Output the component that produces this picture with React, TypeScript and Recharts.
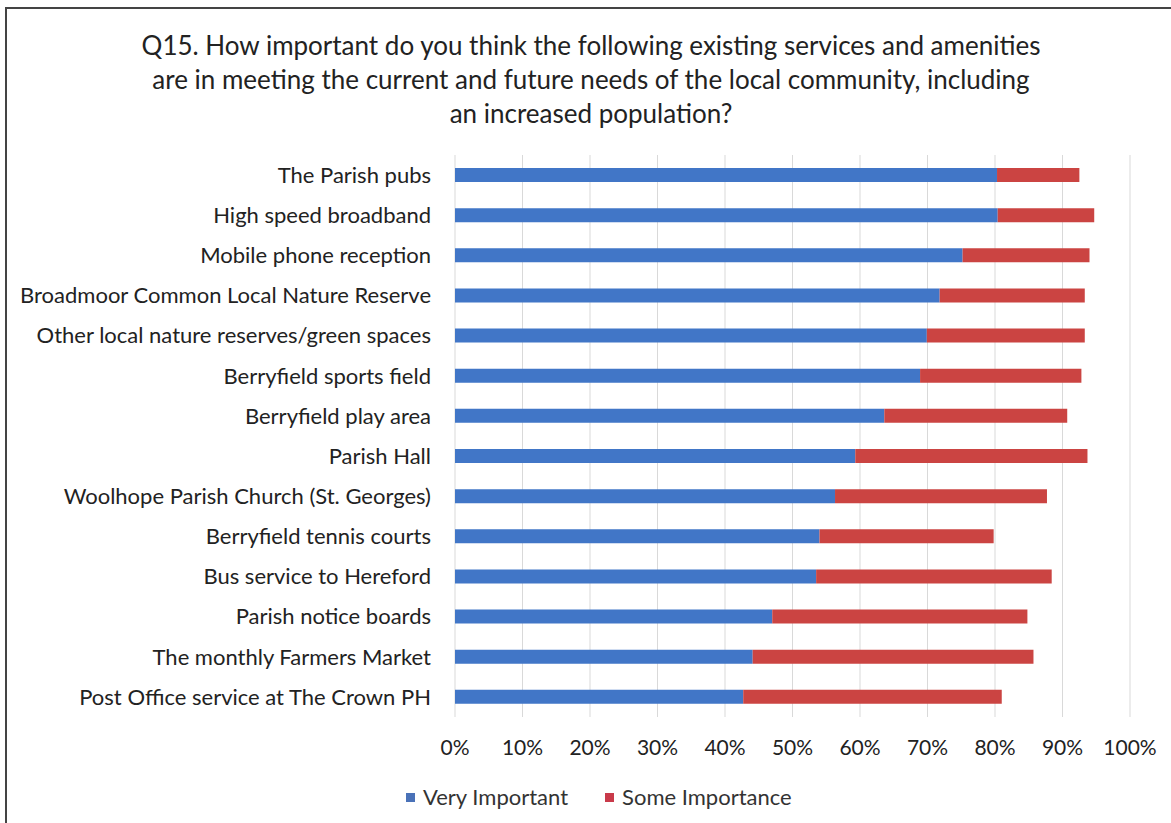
import { Bar, BarChart, CartesianGrid, XAxis, YAxis } from "recharts"

const categories = [
  "The Parish pubs",
  "High speed broadband",
  "Mobile phone reception",
  "Broadmoor Common Local Nature Reserve",
  "Other local nature reserves/green spaces",
  "Berryfield sports field",
  "Berryfield play area",
  "Parish Hall",
  "Woolhope Parish Church (St. Georges)",
  "Berryfield tennis courts",
  "Bus service to Hereford",
  "Parish notice boards",
  "The monthly Farmers Market",
  "Post Office service at The Crown PH",
]

const veryImportant = [80.3, 80.4, 75.2, 71.8, 69.9, 68.9, 63.6, 59.3, 56.3, 54.0, 53.5, 47.0, 44.1, 42.7]
const someImportance = [12.2, 14.3, 18.8, 21.5, 23.4, 23.9, 27.1, 34.4, 31.4, 25.8, 34.9, 37.8, 41.6, 38.3]

const xTicks = [0, 10, 20, 30, 40, 50, 60, 70, 80, 90, 100]

const titleLines = [
  "Q15. How important do you think the following existing services and amenities",
  "are in meeting the current and future needs of the local community, including",
  "an increased population?",
]

const legendItems = [
  { label: "Very Important", color: "#4a72b8" },
  { label: "Some Importance", color: "#c93a4a" },
]

const data = categories.map((name, i) => ({
  name,
  very: veryImportant[i],
  some: someImportance[i],
}))

const FONT = "Lato, 'Open Sans', sans-serif"
const BLUE = "#4176c7"
const RED = "#cb4442"

export default function App() {
  return (
    <div style={{ position: "absolute", left: 0, top: 0, width: 1171, height: 823, background: "#fff", overflow: "hidden" }}>
      <div
        style={{
          position: "absolute",
          left: 5,
          top: 7,
          width: 1200,
          height: 840,
          border: "2px solid #444",
          boxSizing: "border-box",
        }}
      />
      <div
        style={{
          position: "absolute",
          left: 0,
          top: 28,
          width: 1182,
          textAlign: "center",
          fontFamily: FONT,
          fontSize: 26,
          lineHeight: "34px",
          color: "#222",
        }}
      >
        {titleLines.map((l) => (
          <div key={l}>{l}</div>
        ))}
      </div>
      <div style={{ position: "absolute", left: 0, top: 0 }}>
        <BarChart
          layout="vertical"
          width={1171}
          height={823}
          data={data}
          margin={{ top: 155, right: 41, bottom: 66, left: 0 }}
          barSize={14}
        >
          <CartesianGrid horizontal={false} stroke="#d9d9d9" />
          <XAxis
            type="number"
            domain={[0, 100]}
            ticks={xTicks}
            tickFormatter={(v) => `${v}%`}
            axisLine={false}
            tickLine={false}
            tickMargin={17}
            height={40}
            tick={{ fill: "#222", fontSize: 21, fontFamily: FONT }}
          />
          <YAxis
            type="category"
            dataKey="name"
            width={455}
            axisLine={false}
            tickLine={false}
            tickMargin={18}
            interval={0}
            tick={{ fill: "#222", fontSize: 22, fontFamily: FONT }}
          />
          <Bar dataKey="very" name="Very Important" stackId="a" fill={BLUE} isAnimationActive={false} />
          <Bar dataKey="some" name="Some Importance" stackId="a" fill={RED} isAnimationActive={false} />
        </BarChart>
      </div>
      <div
        style={{
          position: "absolute",
          left: 406,
          top: 783,
          display: "flex",
          gap: 37,
          fontFamily: FONT,
          fontSize: 22,
          lineHeight: "28px",
          color: "#333",
        }}
      >
        {legendItems.map((it) => (
          <div key={it.label} style={{ display: "flex", alignItems: "center" }}>
            <span style={{ width: 9, height: 9, background: it.color, display: "inline-block", marginRight: 8 }} />
            {it.label}
          </div>
        ))}
      </div>
    </div>
  )
}
